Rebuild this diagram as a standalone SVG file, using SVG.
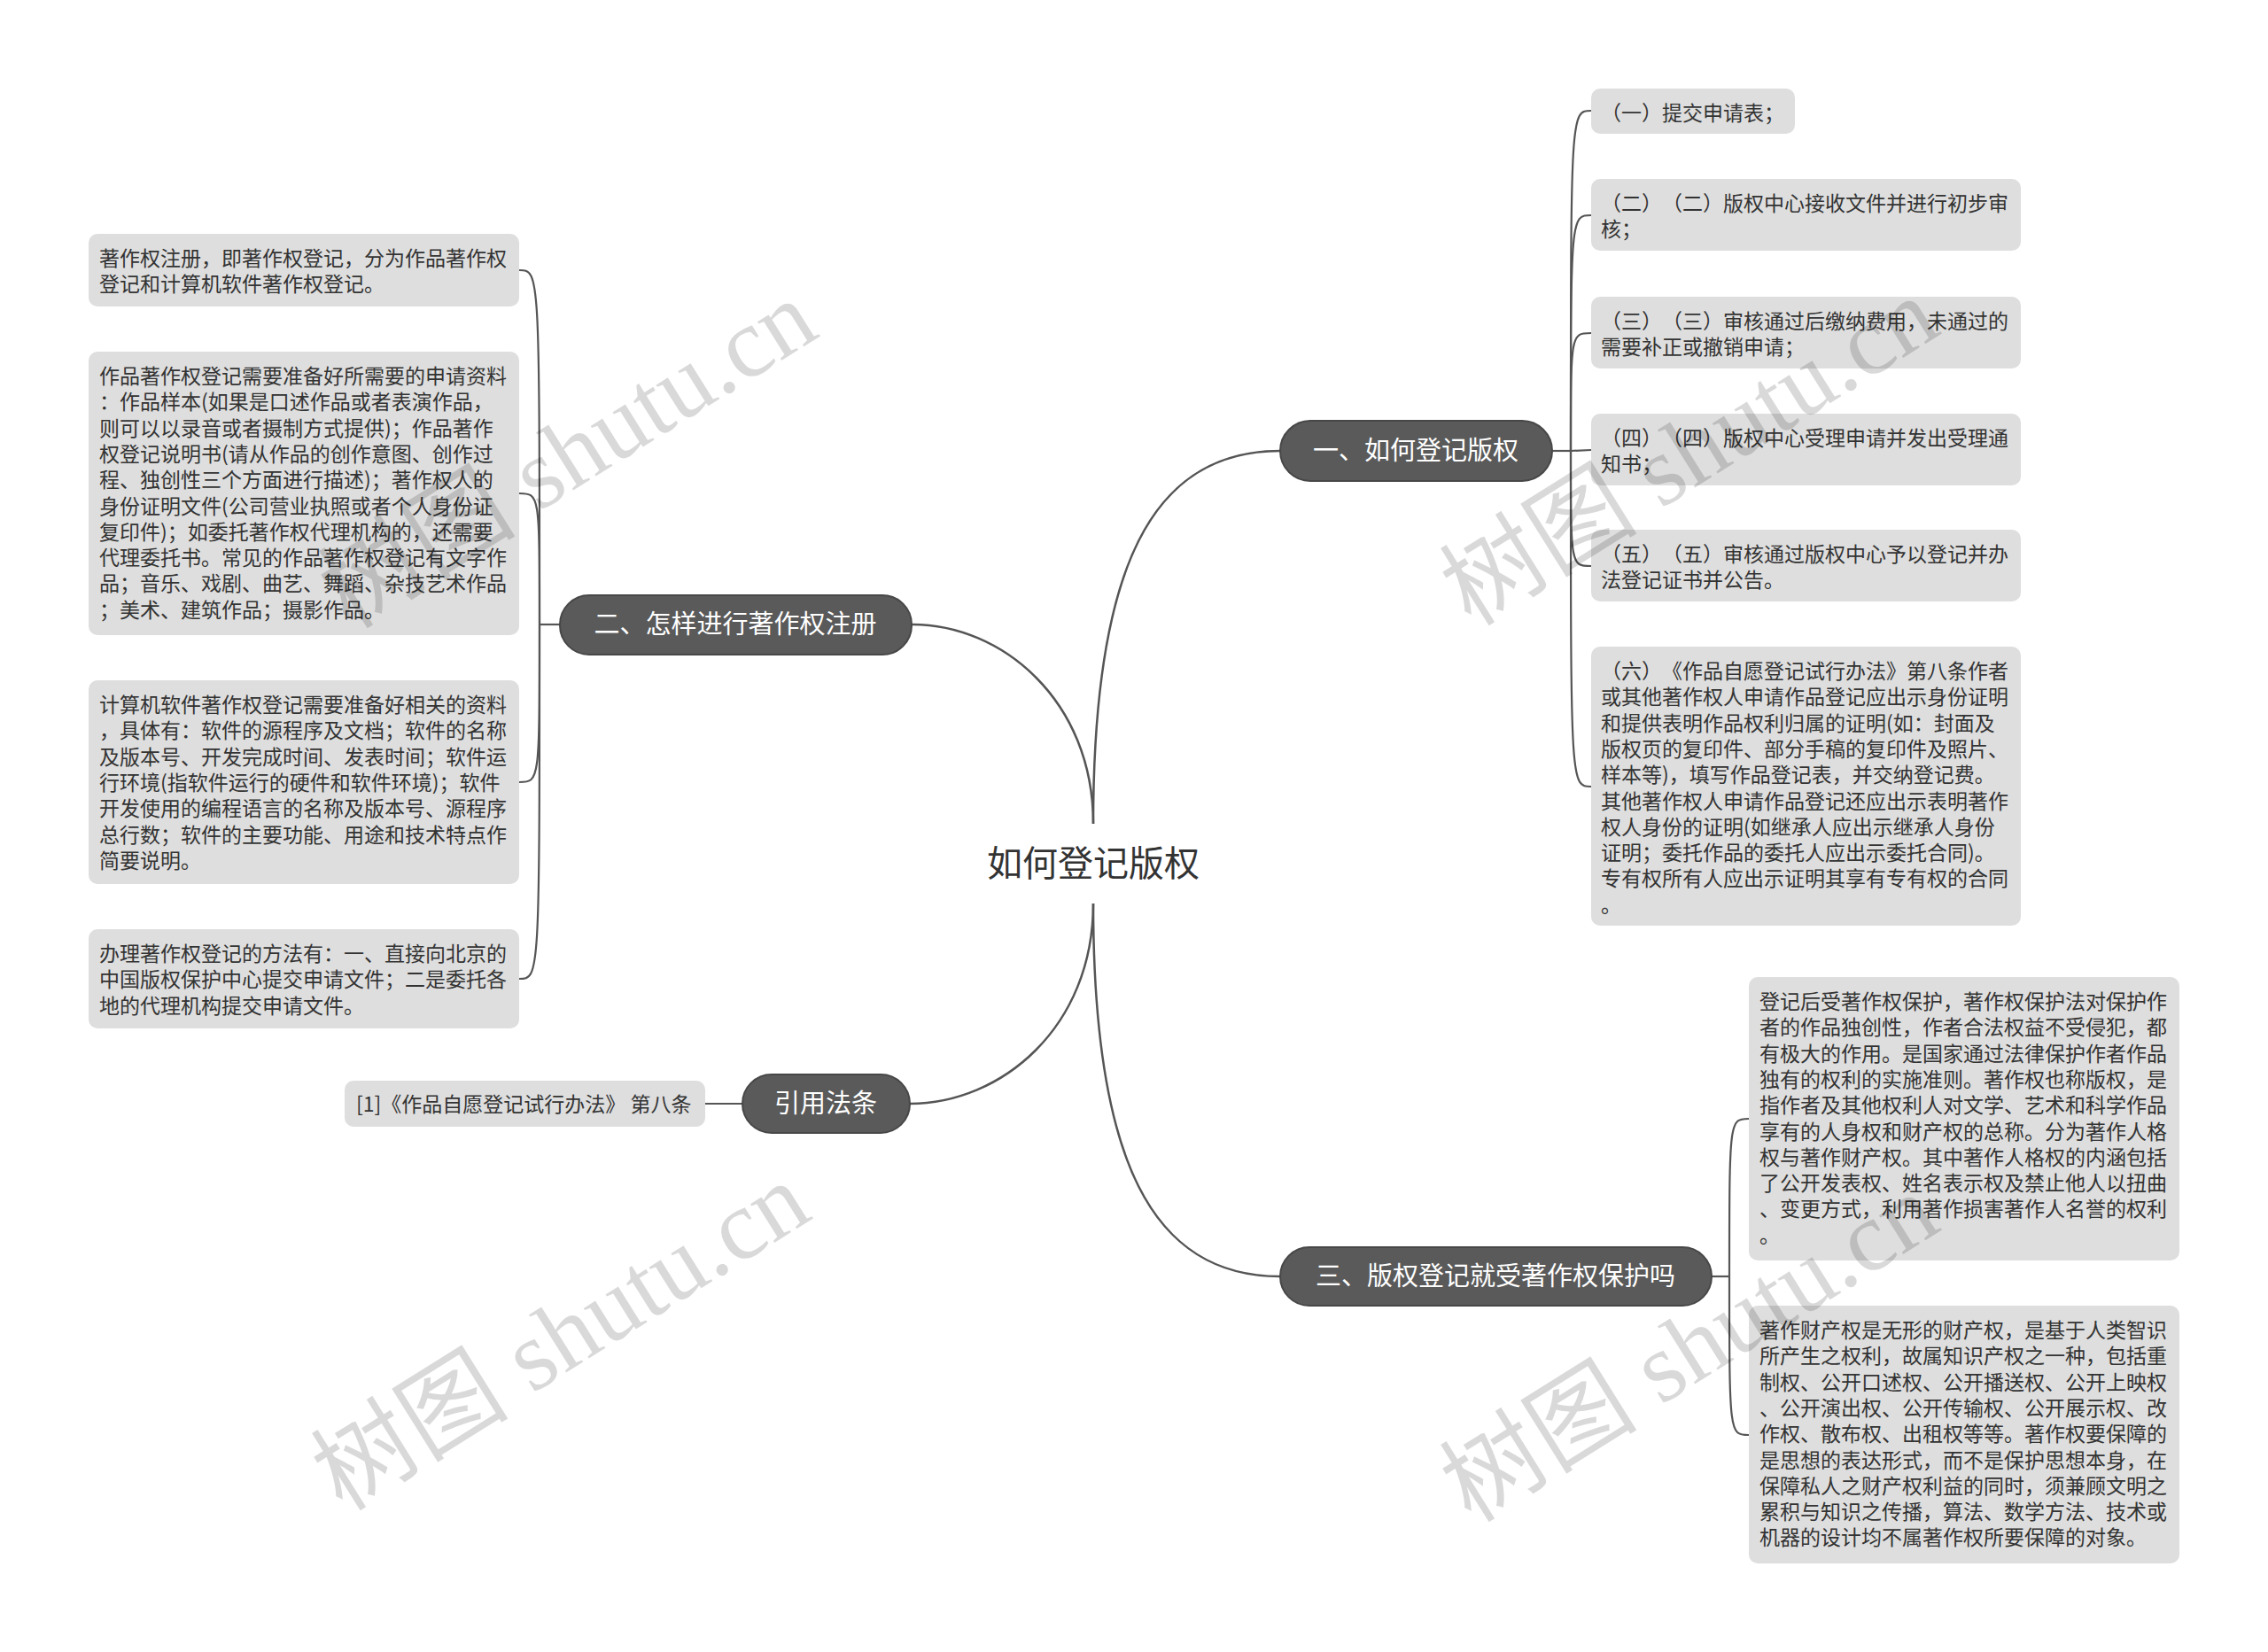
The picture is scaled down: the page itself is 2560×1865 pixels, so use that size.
<svg xmlns="http://www.w3.org/2000/svg" width="2560" height="1865" viewBox="0 0 2560 1865">
<style>
text{text-spacing-trim:space-all}
.bg{fill:#ffffff}
.leaf rect{fill:#dedede}
.leaf text{font-family:"Noto Sans CJK SC","Liberation Sans",sans-serif;font-size:23px;fill:#333333}
.pill rect{fill:#5a5a5a;stroke:#474747;stroke-width:2}
.pill text{font-family:"Noto Sans CJK SC","Liberation Sans",sans-serif;font-size:29px;fill:#ffffff;text-anchor:middle}
.root text{font-family:"Noto Sans CJK SC","Liberation Sans",sans-serif;font-size:40px;fill:#333333;text-anchor:middle}
.edges path{fill:none;stroke:#555555;stroke-width:2.5}
.edges .c{stroke-width:2.2}
.wm{font-family:"Liberation Serif","Noto Sans CJK SC",serif;font-size:112px;fill:#000000;fill-opacity:0.15;text-anchor:middle}
</style>
<rect class="bg" x="0" y="0" width="2560" height="1865"/>

<g id="connectors" class="edges">
<path d="M1234 930 C1234 640 1300 509 1445 509"/>
<path d="M1234 930 C1234 790 1130 705 1030 705"/>
<path d="M1234 1020 C1234 1160 1130 1246 1027 1246"/>
<path d="M1234 1020 C1234 1310 1300 1441 1445 1441"/>
<path class="c" d="M1752 509 L1773 509"/>
<path class="c" d="M1773 509 C1773 125 1773 125 1796 125"/>
<path class="c" d="M1773 509 C1773 243 1773 243 1796 243"/>
<path class="c" d="M1773 509 C1773 376 1773 376 1796 376"/>
<path class="c" d="M1773 509 L1796 508"/>
<path class="c" d="M1773 509 C1773 639 1773 639 1796 639"/>
<path class="c" d="M1773 509 C1773 888 1773 888 1796 888"/>
<path class="c" d="M632 705 L609 705"/>
<path class="c" d="M609 705 C609 305 609 305 586 305"/>
<path class="c" d="M609 705 C609 557 609 557 586 557"/>
<path class="c" d="M609 705 C609 883 609 883 586 883"/>
<path class="c" d="M609 705 C609 1105 609 1105 586 1105"/>
<path class="c" d="M838 1246 L796 1246"/>
<path class="c" d="M1932 1441 L1952 1441"/>
<path class="c" d="M1952 1441 C1952 1263 1952 1263 1974 1263"/>
<path class="c" d="M1952 1441 C1952 1620 1952 1620 1974 1620"/>
</g>

<g id="root" class="root"><text x="1234" y="989">如何登记版权</text></g>

<g id="b1" class="pill"><rect x="1445" y="475" width="307" height="68" rx="34"/><text x="1598" y="519">一、如何登记版权</text></g>
<g id="b2" class="pill"><rect x="632" y="672" width="397" height="67" rx="33"/><text x="830" y="715">二、怎样进行著作权注册</text></g>
<g id="b3" class="pill"><rect x="838" y="1213" width="189" height="66" rx="33"/><text x="932" y="1256">引用法条</text></g>
<g id="b4" class="pill"><rect x="1445" y="1408" width="487" height="66" rx="33"/><text x="1688" y="1451">三、版权登记就受著作权保护吗</text></g>

<g id="l_a" class="leaf"><rect x="100" y="264" width="486" height="82" rx="10"/>
<text x="112" y="300"><tspan x="112">著作权注册，即著作权登记，分为作品著作权</tspan><tspan x="112" dy="29.3">登记和计算机软件著作权登记。</tspan></text></g>

<g id="l_b" class="leaf"><rect x="100" y="397" width="486" height="320" rx="10"/>
<text x="112" y="433"><tspan x="112">作品著作权登记需要准备好所需要的申请资料</tspan><tspan x="112" dy="29.3">：作品样本(如果是口述作品或者表演作品，</tspan><tspan x="112" dy="29.3">则可以以录音或者摄制方式提供)；作品著作</tspan><tspan x="112" dy="29.3">权登记说明书(请从作品的创作意图、创作过</tspan><tspan x="112" dy="29.3">程、独创性三个方面进行描述)；著作权人的</tspan><tspan x="112" dy="29.3">身份证明文件(公司营业执照或者个人身份证</tspan><tspan x="112" dy="29.3">复印件)；如委托著作权代理机构的，还需要</tspan><tspan x="112" dy="29.3">代理委托书。常见的作品著作权登记有文字作</tspan><tspan x="112" dy="29.3">品；音乐、戏剧、曲艺、舞蹈、杂技艺术作品</tspan><tspan x="112" dy="29.3">；美术、建筑作品；摄影作品。</tspan></text></g>

<g id="l_c" class="leaf"><rect x="100" y="768" width="486" height="230" rx="10"/>
<text x="112" y="804"><tspan x="112">计算机软件著作权登记需要准备好相关的资料</tspan><tspan x="112" dy="29.3">，具体有：软件的源程序及文档；软件的名称</tspan><tspan x="112" dy="29.3">及版本号、开发完成时间、发表时间；软件运</tspan><tspan x="112" dy="29.3">行环境(指软件运行的硬件和软件环境)；软件</tspan><tspan x="112" dy="29.3">开发使用的编程语言的名称及版本号、源程序</tspan><tspan x="112" dy="29.3">总行数；软件的主要功能、用途和技术特点作</tspan><tspan x="112" dy="29.3">简要说明。</tspan></text></g>

<g id="l_d" class="leaf"><rect x="100" y="1049" width="486" height="112" rx="10"/>
<text x="112" y="1085"><tspan x="112">办理著作权登记的方法有：一、直接向北京的</tspan><tspan x="112" dy="29.3">中国版权保护中心提交申请文件；二是委托各</tspan><tspan x="112" dy="29.3">地的代理机构提交申请文件。</tspan></text></g>

<g id="l_ref" class="leaf"><rect x="389" y="1220" width="407" height="52" rx="10"/>
<text x="402" y="1255">[1]《作品自愿登记试行办法》 第八条</text></g>

<g id="r_1" class="leaf"><rect x="1796" y="100" width="230" height="51" rx="10"/>
<text x="1807" y="136">（一）提交申请表；</text></g>

<g id="r_2" class="leaf"><rect x="1796" y="202" width="485" height="81" rx="10"/>
<text x="1807" y="238"><tspan x="1807">（二）（二）版权中心接收文件并进行初步审</tspan><tspan x="1807" dy="29.3">核；</tspan></text></g>

<g id="r_3" class="leaf"><rect x="1796" y="335" width="485" height="81" rx="10"/>
<text x="1807" y="371"><tspan x="1807">（三）（三）审核通过后缴纳费用，未通过的</tspan><tspan x="1807" dy="29.3">需要补正或撤销申请；</tspan></text></g>

<g id="r_4" class="leaf"><rect x="1796" y="467" width="485" height="81" rx="10"/>
<text x="1807" y="503"><tspan x="1807">（四）（四）版权中心受理申请并发出受理通</tspan><tspan x="1807" dy="29.3">知书；</tspan></text></g>

<g id="r_5" class="leaf"><rect x="1796" y="598" width="485" height="81" rx="10"/>
<text x="1807" y="634"><tspan x="1807">（五）（五）审核通过版权中心予以登记并办</tspan><tspan x="1807" dy="29.3">法登记证书并公告。</tspan></text></g>

<g id="r_6" class="leaf"><rect x="1796" y="730" width="485" height="315" rx="10"/>
<text x="1807" y="766"><tspan x="1807">（六）《作品自愿登记试行办法》第八条作者</tspan><tspan x="1807" dy="29.3">或其他著作权人申请作品登记应出示身份证明</tspan><tspan x="1807" dy="29.3">和提供表明作品权利归属的证明(如：封面及</tspan><tspan x="1807" dy="29.3">版权页的复印件、部分手稿的复印件及照片、</tspan><tspan x="1807" dy="29.3">样本等)，填写作品登记表，并交纳登记费。</tspan><tspan x="1807" dy="29.3">其他著作权人申请作品登记还应出示表明著作</tspan><tspan x="1807" dy="29.3">权人身份的证明(如继承人应出示继承人身份</tspan><tspan x="1807" dy="29.3">证明；委托作品的委托人应出示委托合同)。</tspan><tspan x="1807" dy="29.3">专有权所有人应出示证明其享有专有权的合同</tspan><tspan x="1807" dy="29.3">。</tspan></text></g>

<g id="r_e" class="leaf"><rect x="1974" y="1103" width="486" height="320" rx="10"/>
<text x="1986" y="1139"><tspan x="1986">登记后受著作权保护，著作权保护法对保护作</tspan><tspan x="1986" dy="29.3">者的作品独创性，作者合法权益不受侵犯，都</tspan><tspan x="1986" dy="29.3">有极大的作用。是国家通过法律保护作者作品</tspan><tspan x="1986" dy="29.3">独有的权利的实施准则。著作权也称版权，是</tspan><tspan x="1986" dy="29.3">指作者及其他权利人对文学、艺术和科学作品</tspan><tspan x="1986" dy="29.3">享有的人身权和财产权的总称。分为著作人格</tspan><tspan x="1986" dy="29.3">权与著作财产权。其中著作人格权的内涵包括</tspan><tspan x="1986" dy="29.3">了公开发表权、姓名表示权及禁止他人以扭曲</tspan><tspan x="1986" dy="29.3">、变更方式，利用著作损害著作人名誉的权利</tspan><tspan x="1986" dy="29.3">。</tspan></text></g>

<g id="r_f" class="leaf"><rect x="1974" y="1474" width="486" height="291" rx="10"/>
<text x="1986" y="1510"><tspan x="1986">著作财产权是无形的财产权，是基于人类智识</tspan><tspan x="1986" dy="29.3">所产生之权利，故属知识产权之一种，包括重</tspan><tspan x="1986" dy="29.3">制权、公开口述权、公开播送权、公开上映权</tspan><tspan x="1986" dy="29.3">、公开演出权、公开传输权、公开展示权、改</tspan><tspan x="1986" dy="29.3">作权、散布权、出租权等等。著作权要保障的</tspan><tspan x="1986" dy="29.3">是思想的表达形式，而不是保护思想本身，在</tspan><tspan x="1986" dy="29.3">保障私人之财产权利益的同时，须兼顾文明之</tspan><tspan x="1986" dy="29.3">累积与知识之传播，算法、数学方法、技术或</tspan><tspan x="1986" dy="29.3">机器的设计均不属著作权所要保障的对象。</tspan></text></g>

<g id="watermarks">
<text class="wm" transform="translate(661 545) rotate(-32)">树图 shutu.cn</text>
<text class="wm" transform="translate(1927 542) rotate(-32)">树图 shutu.cn</text>
<text class="wm" transform="translate(653 1541) rotate(-32)">树图 shutu.cn</text>
<text class="wm" transform="translate(1927 1554) rotate(-32)">树图 shutu.cn</text>
</g>
</svg>
